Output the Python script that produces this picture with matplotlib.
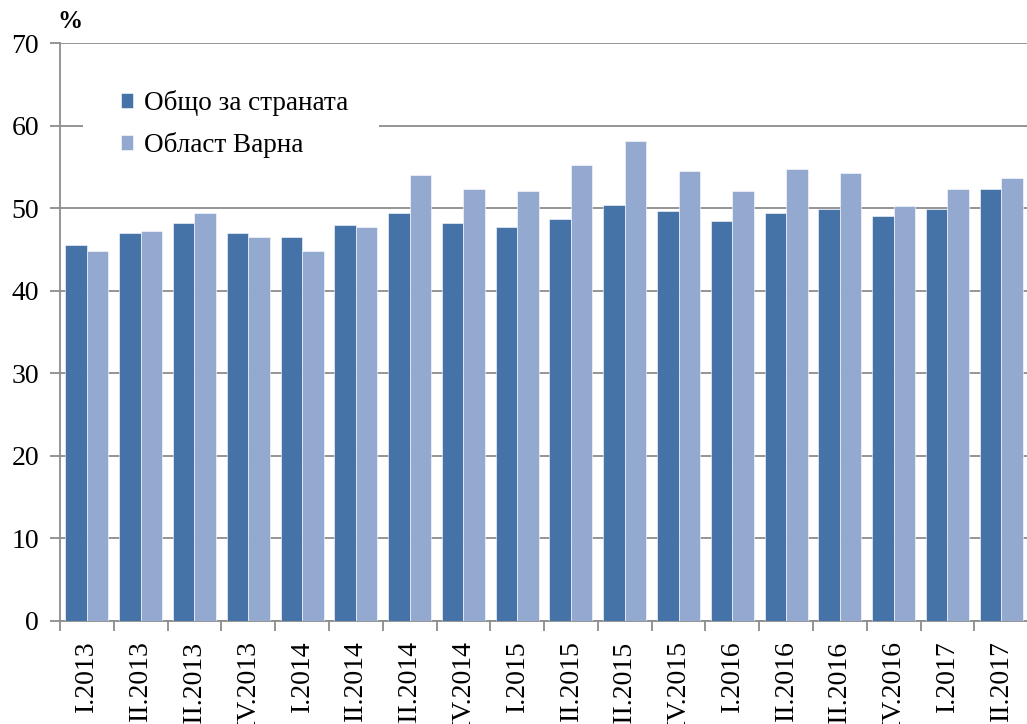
import matplotlib
matplotlib.use("Agg")
import matplotlib.pyplot as plt
from matplotlib.patches import Rectangle
import numpy as np

categories = ["I.2013", "II.2013", "III.2013", "IV.2013", "I.2014", "II.2014",
              "III.2014", "IV.2014", "I.2015", "II.2015", "III.2015", "IV.2015",
              "I.2016", "II.2016", "III.2016", "IV.2016", "I.2017", "II.2017"]
country = [45.5, 47.0, 48.2, 47.0, 46.5, 47.9, 49.4, 48.2, 47.7, 48.7, 50.4, 49.7,
           48.4, 49.4, 49.9, 49.1, 49.9, 52.3]
varna = [44.8, 47.2, 49.4, 46.5, 44.8, 47.7, 54.0, 52.3, 52.1, 55.2, 58.1, 54.5,
         52.1, 54.7, 54.2, 50.3, 52.3, 53.7]
series_names = ["Общо за страната", "Област Варна"]
yticks = [0, 10, 20, 30, 40, 50, 60, 70]

plt.rcParams['font.family'] = ['Liberation Serif', 'DejaVu Serif']

fig = plt.figure(figsize=(10.27, 7.24), dpi=100)
ax = fig.add_axes([60/1027, 1 - 621/724, (17.83*54.3)/1027, (621-43)/724])

x = np.arange(len(categories))
w = 0.4
dark = "#4572A7"
light = "#93A9CF"
ax.bar(x - w/2, country, w, color=dark, edgecolor="white", linewidth=0.4, label=series_names[0], zorder=3)
ax.bar(x + w/2, varna, w, color=light, edgecolor="white", linewidth=0.4, label=series_names[1], zorder=3)

ax.set_xlim(-0.5, 17.33)
ax.set_ylim(0, 70)
ax.set_yticks(yticks)
ax.set_yticklabels([str(t) for t in yticks], fontsize=20)
ax.yaxis.grid(True, color="#8c8c8c", linewidth=1.3, zorder=0)
ax.set_axisbelow(True)

ax.set_xticks(np.arange(-0.5, len(categories), 1.0))
ax.set_xticklabels([])
ax.set_xticks(x, minor=True)
ax.set_xticklabels(categories, minor=True, rotation=90, fontsize=20)
ax.tick_params(axis='x', which='minor', length=0, pad=14)
ax.tick_params(axis='x', which='major', length=7, color="#8c8c8c", width=1.3)
ax.tick_params(axis='y', length=7, color="#8c8c8c", width=1.3, pad=8)

for s in ["top", "right"]:
    ax.spines[s].set_visible(False)
for s in ["left", "bottom"]:
    ax.spines[s].set_color("#8c8c8c")
    ax.spines[s].set_linewidth(1.3)

# white legend background breaking the gridline
ax.add_patch(Rectangle((-0.076, 57.5), 5.5, 5, facecolor="white", edgecolor="none", zorder=1))

leg = ax.legend(loc="upper left", bbox_to_anchor=(121/1027, 1 - 90/724),
                bbox_transform=fig.transFigure, frameon=False,
                fontsize=19.5, handlelength=0.45, handleheight=0.45, handletextpad=0.4,
                labelspacing=0.6, borderpad=0.0, borderaxespad=0.0)
leg.set_zorder(5)

fig.text(57/1027, 1 - 22/724, "%", fontsize=18, fontweight="bold", ha="left", va="center")

fig.savefig("out.png", dpi=100)
